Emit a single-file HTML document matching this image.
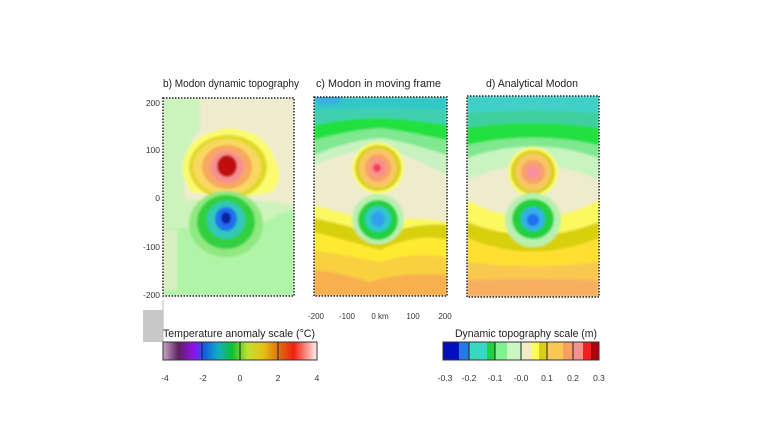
<!DOCTYPE html>
<html><head><meta charset="utf-8"><style>
body{margin:0;background:#fff;}
svg{display:block;font-family:"Liberation Sans",sans-serif;}
</style></head><body>
<svg width="759" height="422" viewBox="0 0 759 422" xmlns="http://www.w3.org/2000/svg">
<defs>
<clipPath id="cb"><rect x="163" y="98" width="131" height="198"/></clipPath>
<clipPath id="cc"><rect x="314" y="97" width="133" height="199"/></clipPath>
<clipPath id="cd"><rect x="467" y="96" width="132" height="201"/></clipPath>
<filter id="bl"><feGaussianBlur stdDeviation="1"/></filter>
<linearGradient id="tg" x1="0" x2="1">
<stop offset="0" stop-color="#c8a8c8"/><stop offset="0.1" stop-color="#602060"/><stop offset="0.2" stop-color="#9010f0"/><stop offset="0.27" stop-color="#1060e0"/><stop offset="0.36" stop-color="#10b0c0"/><stop offset="0.45" stop-color="#10c030"/><stop offset="0.55" stop-color="#c0e030"/><stop offset="0.65" stop-color="#e8c010"/><stop offset="0.75" stop-color="#e07010"/><stop offset="0.85" stop-color="#f02010"/><stop offset="1" stop-color="#fff0f0"/>
</linearGradient>
</defs>

<text x="163" y="87" font-size="11" fill="#222" textLength="136" lengthAdjust="spacingAndGlyphs">b) Modon dynamic topography</text>
<text x="316" y="87" font-size="11" fill="#222" textLength="125" lengthAdjust="spacingAndGlyphs">c) Modon in moving frame</text>
<text x="486" y="87" font-size="11" fill="#222" textLength="92" lengthAdjust="spacingAndGlyphs">d) Analytical Modon</text>
<g font-size="8.5" fill="#333" text-anchor="end">
<text x="160" y="106">200</text><text x="160" y="153">100</text><text x="160" y="201">0</text><text x="160" y="250">-100</text><text x="160" y="298">-200</text>
</g>

<!-- panel b -->
<g clip-path="url(#cb)" filter="url(#bl)">
<rect x="163" y="98" width="131" height="198" fill="#b0f4a8"/>
<path d="M163 98 H294 V210 Q270 215 255 230 Q230 245 200 232 Q185 225 163 230 Z" fill="#cdf3bc"/>
<path d="M200 98 H294 V205 Q260 200 240 200 Q200 200 185 200 Q180 150 200 130 Z" fill="#eeeccc"/>
<rect x="163" y="230" width="14" height="60" fill="#d8f0c0"/>
<path d="M183 175 Q180 135 228 128 Q265 130 275 160 Q285 180 272 192 Q240 200 190 192 Z" fill="#fbfb70"/>
<ellipse cx="228" cy="167" rx="39" ry="32" fill="#e0d820"/>
<ellipse cx="227" cy="167" rx="34" ry="28" fill="#f8d860"/>
<ellipse cx="227" cy="167" rx="25" ry="22" fill="#f8a860"/>
<ellipse cx="227" cy="167" rx="17" ry="16" fill="#f89090"/>
<ellipse cx="227" cy="166" rx="10" ry="11" fill="#c01010"/>
<ellipse cx="226" cy="224" rx="37" ry="33" fill="#90e880"/>
<ellipse cx="226" cy="222" rx="29" ry="27" fill="#30d040"/>
<ellipse cx="226" cy="220" rx="19" ry="19" fill="#30c8b8"/>
<ellipse cx="226" cy="219" rx="11" ry="12" fill="#2070f0"/>
<ellipse cx="226" cy="218" rx="5" ry="6" fill="#0820a0"/>
</g>
<rect x="163" y="98" width="131" height="198" fill="none" stroke="#222" stroke-width="1.5" stroke-dasharray="1.5 1.5"/>

<!-- panel c -->
<g clip-path="url(#cc)" filter="url(#bl)">
<rect x="314" y="97" width="133" height="199" fill="#f8b050"/>
<path d="M314 97 H447 V275 Q400 272 370 282 Q340 272 314 270 Z" fill="#f8d040"/>
<path d="M314 97 H447 V258 Q420 250 380 262 Q345 255 314 250 Z" fill="#ffea30"/>
<path d="M314 97 H447 V240 Q420 232 380 250 Q345 240 314 232 Z" fill="#d8d010"/>
<path d="M314 97 H447 V225 Q420 222 380 235 Q345 225 314 218 Z" fill="#fbf860"/>
<path d="M314 97 H447 V222 Q410 215 380 222 Q350 215 314 205 Z" fill="#eeeccc"/>
<path d="M314 97 H447 V175 Q400 150 380 148 Q350 150 314 165 Z" fill="#c8f2c0"/>
<path d="M314 97 H447 V155 Q400 140 380 138 Q350 140 314 155 Z" fill="#80e890"/>
<path d="M314 97 H447 V140 Q400 130 380 128 Q350 130 314 140 Z" fill="#20e040"/>
<path d="M314 97 H447 V125 Q400 118 380 118 Q350 118 314 125 Z" fill="#40d0b0"/>
<path d="M314 97 H447 V110 Q380 106 314 110 Z" fill="#30c8c8"/>
<ellipse cx="328" cy="99" rx="14" ry="6" fill="#3ab0e0"/>
<ellipse cx="378" cy="168" rx="26" ry="26" fill="#fbfb70"/>
<ellipse cx="378" cy="168" rx="23" ry="23" fill="#d8d010"/>
<ellipse cx="378" cy="168" rx="19" ry="20" fill="#f8c860"/>
<ellipse cx="378" cy="168" rx="13" ry="14" fill="#f8a070"/>
<ellipse cx="378" cy="168" rx="8" ry="8" fill="#f89090"/>
<ellipse cx="377" cy="168" rx="4" ry="4" fill="#f04050"/>
<ellipse cx="378" cy="219" rx="26" ry="25" fill="#b8f0b0"/>
<ellipse cx="378" cy="220" rx="20" ry="20" fill="#20d040"/>
<ellipse cx="378" cy="219" rx="13" ry="13" fill="#30c8c8"/>
<ellipse cx="378" cy="219" rx="7" ry="8" fill="#30a0f0"/>
</g>
<rect x="314" y="97" width="133" height="199" fill="none" stroke="#222" stroke-width="1.5" stroke-dasharray="1.5 1.5"/>

<!-- panel d -->
<g clip-path="url(#cd)" filter="url(#bl)">
<rect x="467" y="96" width="132" height="201" fill="#f8b060"/>
<path d="M467 96 H599 V280 Q533 278 467 280 Z" fill="#f8c850"/>
<path d="M467 96 H599 V262 Q533 270 467 262 Z" fill="#ffe030"/>
<path d="M467 96 H599 V238 Q533 265 467 238 Z" fill="#d8d010"/>
<path d="M467 96 H599 V222 Q533 248 467 222 Z" fill="#fbf860"/>
<path d="M467 96 H599 V200 Q533 235 467 200 Z" fill="#eeeccc"/>
<path d="M467 96 H599 V180 Q533 150 467 180 Z" fill="#c8f4c0"/>
<path d="M467 96 H599 V158 Q533 135 467 158 Z" fill="#80e890"/>
<path d="M467 96 H599 V145 Q533 130 467 145 Z" fill="#20e040"/>
<path d="M467 96 H599 V128 Q533 118 467 128 Z" fill="#40d0a0"/>
<path d="M467 96 H599 V113 Q533 108 467 113 Z" fill="#40d0c8"/>
<ellipse cx="533" cy="172" rx="25" ry="25" fill="#fbfb70"/>
<ellipse cx="533" cy="172" rx="22" ry="22" fill="#d8d010"/>
<ellipse cx="533" cy="172" rx="18" ry="19" fill="#f8c860"/>
<ellipse cx="533" cy="172" rx="12" ry="12" fill="#f8a070"/>
<ellipse cx="533" cy="172" rx="6" ry="6" fill="#f890a0"/>
<ellipse cx="533" cy="220" rx="28" ry="27" fill="#b8f0b0"/>
<ellipse cx="533" cy="219" rx="21" ry="20" fill="#20d040"/>
<ellipse cx="533" cy="219" rx="12" ry="12" fill="#30b0e8"/>
<ellipse cx="533" cy="220" rx="6" ry="6" fill="#2070f0"/>
</g>
<rect x="467" y="96" width="132" height="201" fill="none" stroke="#222" stroke-width="1.5" stroke-dasharray="1.5 1.5"/>

<g font-size="8" fill="#333" text-anchor="middle">
<text x="316" y="319">-200</text><text x="347" y="319">-100</text><text x="380" y="319">0 km</text><text x="413" y="319">100</text><text x="445" y="319">200</text>
</g>

<rect x="143" y="310" width="20" height="32" fill="#c8c8c8"/>
<line x1="163" y1="300" x2="163" y2="342" stroke="#bbb"/>

<text x="163" y="337" font-size="11" fill="#222" textLength="152" lengthAdjust="spacingAndGlyphs">Temperature anomaly scale (°C)</text>
<rect x="163" y="342" width="154" height="18" fill="url(#tg)" stroke="#333"/>
<g stroke="#222"><line x1="202" y1="342" x2="202" y2="360"/><line x1="240" y1="342" x2="240" y2="360"/><line x1="278" y1="342" x2="278" y2="360"/></g>
<g font-size="8.5" fill="#333" text-anchor="middle">
<text x="165" y="381">-4</text><text x="203" y="381">-2</text><text x="240" y="381">0</text><text x="278" y="381">2</text><text x="317" y="381">4</text>
</g>

<text x="455" y="337" font-size="11" fill="#222" textLength="142" lengthAdjust="spacingAndGlyphs">Dynamic topography scale (m)</text>
<g>
<rect x="443" y="342" width="16" height="18" fill="#0010c0"/>
<rect x="459" y="342" width="10" height="18" fill="#2878e8"/>
<rect x="469" y="342" width="18" height="18" fill="#38d8c0"/>
<rect x="487" y="342" width="8" height="18" fill="#20d040"/>
<rect x="495" y="342" width="12" height="18" fill="#80f090"/>
<rect x="507" y="342" width="14" height="18" fill="#c8f8c0"/>
<rect x="521" y="342" width="10" height="18" fill="#f0ecc8"/>
<rect x="531" y="342" width="8" height="18" fill="#ffff50"/>
<rect x="539" y="342" width="8" height="18" fill="#d8d010"/>
<rect x="547" y="342" width="16" height="18" fill="#f8c850"/>
<rect x="563" y="342" width="10" height="18" fill="#f8a060"/>
<rect x="573" y="342" width="10" height="18" fill="#f89090"/>
<rect x="583" y="342" width="8" height="18" fill="#f02020"/>
<rect x="591" y="342" width="8" height="18" fill="#b00010"/>
<rect x="443" y="342" width="156" height="18" fill="none" stroke="#333"/>
</g>
<g stroke="#222"><line x1="469" y1="342" x2="469" y2="360"/><line x1="495" y1="342" x2="495" y2="360"/><line x1="521" y1="342" x2="521" y2="360"/><line x1="547" y1="342" x2="547" y2="360"/><line x1="573" y1="342" x2="573" y2="360"/></g>
<g font-size="8.5" fill="#333" text-anchor="middle">
<text x="445" y="381">-0.3</text><text x="469" y="381">-0.2</text><text x="495" y="381">-0.1</text><text x="521" y="381">-0.0</text><text x="547" y="381">0.1</text><text x="573" y="381">0.2</text><text x="599" y="381">0.3</text>
</g>
</svg>
</body></html>
